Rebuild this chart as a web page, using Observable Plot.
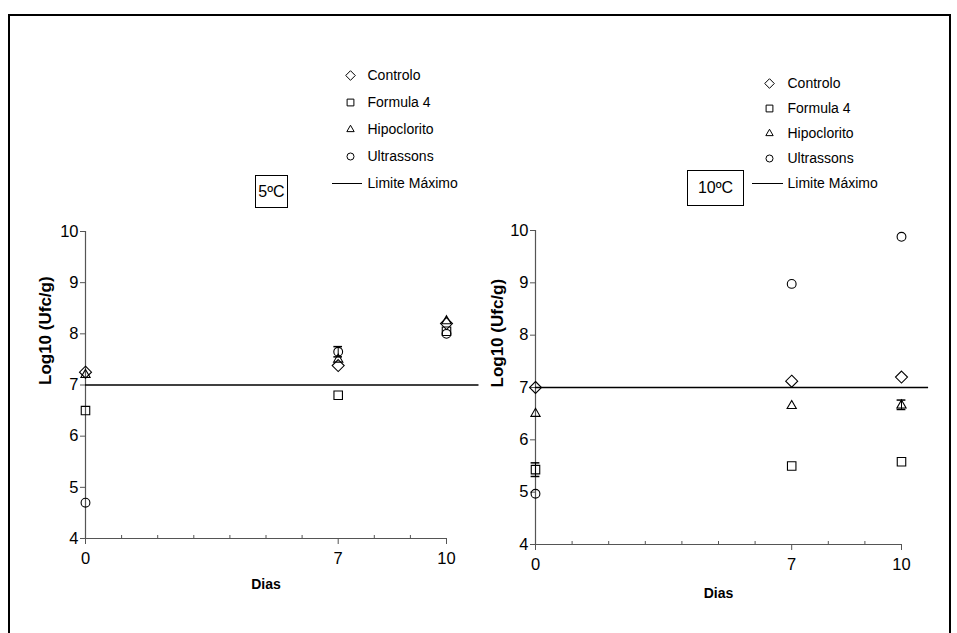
<!DOCTYPE html>
<html>
<head>
<meta charset="utf-8">
<script src="https://cdn.jsdelivr.net/npm/d3@7"></script>
<script src="https://cdn.jsdelivr.net/npm/@observablehq/plot@0.6"></script>
<style>
  html, body { margin: 0; padding: 0; background: #fff; }
  #root { position: relative; width: 957px; height: 633px; overflow: hidden; background: #fff;
          font-family: "Liberation Sans", Arial, sans-serif; }
  #frame { position: absolute; left: 8px; top: 14px; width: 939px; height: 700px; border: 2px solid #000; }
  .tbox { position: absolute; border: 1px solid #000; background: #fff; font-size: 16px; display: flex;
          align-items: center; justify-content: center; box-sizing: border-box; color: #000; }
</style>
</head>
<body>
<div id="root">
  <div id="frame"></div>
</div>
<script>
// ---- data ----
const days = [0, 7, 10];
const seriesNames = ["Controlo", "Formula 4", "Hipoclorito", "Ultrassons"];
const symbolNames = ["diamond2", "square2", "triangle2", "circle"];
const limitLabel = "Limite Máximo";
const limitValue = 7;
const yTicks = [4, 5, 6, 7, 8, 9, 10];
const xMajorTicks = [0, 7, 10];
const xMinorTicks = [1, 2, 3, 4, 5, 6, 8, 9];

// 5 ºC
const controlo5 = [7.25, 7.38, 8.20];
const formula5 = [6.50, 6.80, 8.05];
const hipoclorito5 = [7.20, 7.50, 8.25];
const ultrassons5 = [4.70, 7.65, 8.00];
const errors5 = [
  { series: "Ultrassons", day: 7, lo: 7.55, hi: 7.75 }
];
// 10 ºC
const controlo10 = [7.00, 7.12, 7.20];
const formula10 = [5.43, 5.50, 5.58];
const hipoclorito10 = [6.50, 6.65, 6.66];
const ultrassons10 = [4.97, 8.98, 9.88];
const errors10 = [
  { series: "Formula 4", day: 0, lo: 5.30, hi: 5.56 },
  { series: "Hipoclorito", day: 10, lo: 6.58, hi: 6.76 }
];

const FONT = '"Liberation Sans", Arial, sans-serif';
const symR = { "diamond2": 5.4, "square2": 5.4, "triangle2": 4.4, "circle": 4.4 };

function toRows(valueLists) {
  return seriesNames.flatMap((s, i) => days.map((d, j) => ({ series: s, day: d, value: valueLists[i][j] })));
}

function panel({ values, errors, width, height, mt, mr, mb, ml, limitEnd, yLabelOffset, xLabelOffset }) {
  const rows = toRows(values);
  const dotMarks = seriesNames.map((s, i) =>
    Plot.dot(rows.filter(r => r.series === s), {
      x: "day", y: "value", symbol: () => symbolNames[i], r: symR[symbolNames[i]],
      stroke: "#000", strokeWidth: 1.1, fill: "none"
    })
  );
  return Plot.plot({
    width, height, marginTop: mt, marginRight: mr, marginBottom: mb, marginLeft: ml,
    style: { fontFamily: FONT, fontSize: "16px", color: "#000", background: "transparent", overflow: "visible" },
    x: { domain: [0, 10] },
    y: { domain: [4, 10] },
    symbol: { type: "identity" },
    marks: [
      Plot.ruleX([0], { y1: 4, y2: 10, stroke: "#555", strokeWidth: 1.2 }),
      Plot.ruleY([4], { x1: 0, x2: 10, stroke: "#555", strokeWidth: 1.2 }),
      Plot.axisY(yTicks, { tickSize: 5, tickPadding: 2, label: null, stroke: "#555", fontSize: 16.5,
        tickFormat: d => String(d) }),
      Plot.axisX(xMajorTicks, { tickSize: 6, tickPadding: 8, label: null, stroke: "#555", fontSize: 16.5,
        tickFormat: d => String(d) }),
      Plot.axisX(xMinorTicks, { tickSize: 3, dy: -3, text: null, label: null, stroke: "#555" }),
      Plot.ruleY([limitValue], { x1: 0, x2: limitEnd, stroke: "#000", strokeWidth: 1.5 }),
      Plot.ruleX(errors, { x: "day", y1: "lo", y2: "hi", stroke: "#000", strokeWidth: 1 }),
      Plot.ruleY(errors, { y: "hi", x1: d => d.day - 0.12, x2: d => d.day + 0.12, stroke: "#000", strokeWidth: 1.5 }),
      Plot.ruleY(errors, { y: "lo", x1: d => d.day - 0.12, x2: d => d.day + 0.12, stroke: "#000", strokeWidth: 1.5 }),
      ...dotMarks,
      Plot.text(["Log10 (Ufc/g)"], { frameAnchor: "left", dx: -yLabelOffset, rotate: -90, fontWeight: "bold",
        fontFamily: FONT, fontSize: 17, fill: "#000" }),
      Plot.text(["Dias"], { frameAnchor: "bottom", dy: xLabelOffset, fontWeight: "bold",
        fontFamily: FONT, fontSize: 14, fill: "#000" })
    ]
  });
}

function legend({ width, height, mt, mb, symX, lineX1, lineX2, textX }) {
  const entries = [...seriesNames, limitLabel];
  const symRows = seriesNames.map((s, i) => ({ label: s, sym: symbolNames[i] }));
  return Plot.plot({
    width, height, marginTop: mt, marginBottom: mb, marginLeft: 0, marginRight: 0,
    style: { fontFamily: FONT, fontSize: "14px", color: "#000", background: "transparent", overflow: "visible" },
    x: { domain: [0, 1], axis: null },
    y: { type: "point", domain: entries, padding: 0, axis: null },
    symbol: { type: "identity" },
    marks: [
      ...symRows.map(d => Plot.dot([d], { x: () => symX, y: "label", symbol: "sym",
        r: symR[d.sym] * 0.8, stroke: "#000", strokeWidth: 1, fill: "none" })),
      Plot.ruleY([limitLabel], { y: d => d, x1: lineX1, x2: lineX2, stroke: "#000", strokeWidth: 1 }),
      Plot.text(entries, { x: () => textX, y: d => d, text: d => d, textAnchor: "start", fill: "#000", fontSize: 14 })
    ]
  });
}

const root = document.getElementById("root");
function place(node, left, top) {
  node.style.position = "absolute";
  node.style.left = left + "px";
  node.style.top = top + "px";
  root.appendChild(node);
}

place(panel({ values: [controlo5, formula5, hipoclorito5, ultrassons5], errors: errors5,
  width: 450, height: 380, mt: 11, mr: 34, mb: 62, ml: 55, limitEnd: 10.9, yLabelOffset: 40, xLabelOffset: 50 }), 30, 220);
place(panel({ values: [controlo10, formula10, hipoclorito10, ultrassons10], errors: errors10,
  width: 460, height: 390, mt: 10, mr: 39, mb: 66, ml: 55, limitEnd: 10.74, yLabelOffset: 38, xLabelOffset: 53 }), 480, 220);

// legends: width 200 => x in [0,1] maps to [left, left+200]
place(legend({ width: 200, height: 139, mt: 14, mb: 16, symX: 0.15, lineX1: 0.06, lineX2: 0.21, textX: 0.235 }), 320, 60);
place(legend({ width: 200, height: 132, mt: 22, mb: 8, symX: 0.145, lineX1: 0.06, lineX2: 0.215, textX: 0.235 }), 740, 60);

// condition boxes
const b1 = document.createElement("div"); b1.className = "tbox"; b1.textContent = "5ºC";
b1.style.left = "255px"; b1.style.top = "175px"; b1.style.width = "33px"; b1.style.height = "33px"; root.appendChild(b1);
const b2 = document.createElement("div"); b2.className = "tbox"; b2.textContent = "10ºC";
b2.style.left = "687px"; b2.style.top = "170px"; b2.style.width = "57px"; b2.style.height = "36px"; root.appendChild(b2);
</script>
</body>
</html>
